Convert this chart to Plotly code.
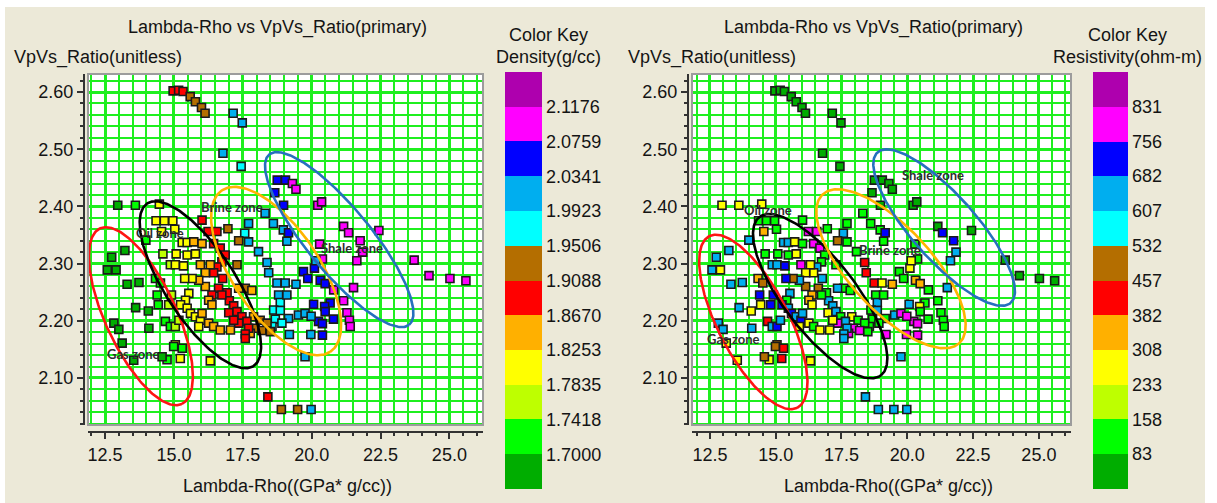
import numpy as np
import plotly.graph_objects as go

FIG_W, FIG_H = 1217, 503

# ---------------- data ----------------
lambda_rho = [
    14.97, 15.17, 15.33, 15.59, 15.78, 16.00, 16.13, 17.15, 17.48, 16.78,
    17.44, 18.75, 19.05, 19.30, 19.43, 18.66, 18.98, 20.22, 20.36, 12.96,
    13.60, 14.47, 14.35, 14.65, 14.96, 15.03, 14.55, 16.02, 16.24, 16.56,
    16.96, 17.71, 17.57, 17.71, 18.31, 18.61, 18.97, 19.16, 19.10, 13.98,
    21.16, 21.34, 22.44, 21.76, 20.29, 20.39, 21.64, 23.72, 24.26, 25.02,
    25.60, 21.52, 21.16, 21.28, 21.37, 21.40, 20.80, 21.85, 19.70, 19.86,
    20.10, 20.31, 20.49, 20.67, 20.47, 20.49, 20.25, 20.39, 20.39, 20.79,
    20.07, 20.15, 18.74, 19.04, 19.43, 18.80, 18.86, 19.10, 18.62, 18.86,
    19.16, 19.52, 19.76, 19.98, 18.68, 18.92, 18.56, 19.19, 19.97, 19.76,
    18.07, 18.38, 18.44, 18.41, 18.90, 19.49, 19.98, 17.89, 18.13, 18.38,
    17.95, 18.19, 18.50, 17.77, 17.59, 17.83, 16.44, 16.68, 16.86, 16.74,
    16.56, 16.44, 16.77, 16.62, 16.93, 17.01, 17.17, 16.99, 17.29, 17.47,
    17.65, 17.71, 17.59, 17.59, 17.35, 17.17, 16.74, 16.38, 16.14, 15.30,
    15.48, 15.72, 16.02, 14.60, 15.08, 15.48, 15.78, 14.87, 15.05, 15.35,
    15.96, 16.32, 16.14, 17.29, 17.35, 15.90, 15.66, 15.39, 14.33, 14.51,
    15.54, 15.42, 15.24, 15.48, 15.60, 15.78, 15.96, 15.90, 15.05, 15.23,
    16.32, 14.91, 14.81, 16.26, 16.38, 16.02, 16.26, 16.44, 16.68, 17.05,
    17.35, 13.22, 12.74, 12.58, 12.90, 13.30, 13.73, 13.61, 14.07, 12.82,
    13.00, 13.12, 14.09, 13.54, 14.69, 14.87, 14.99, 14.75, 14.57, 14.39,
    14.43, 15.30, 15.05, 15.18,
]
vpvs_ratio = [
    2.602, 2.603, 2.601, 2.592, 2.583, 2.573, 2.563, 2.563, 2.546, 2.493,
    2.470, 2.446, 2.446, 2.440, 2.430, 2.424, 2.402, 2.402, 2.408, 2.402,
    2.402, 2.404, 2.375, 2.375, 2.375, 2.360, 2.356, 2.376, 2.356, 2.356,
    2.361, 2.370, 2.353, 2.338, 2.388, 2.370, 2.359, 2.354, 2.339, 2.341,
    2.365, 2.354, 2.358, 2.340, 2.334, 2.308, 2.305, 2.306, 2.279, 2.274,
    2.270, 2.258, 2.235, 2.214, 2.201, 2.190, 2.254, 2.320, 2.286, 2.274,
    2.292, 2.271, 2.265, 2.231, 2.225, 2.216, 2.199, 2.195, 2.175, 2.203,
    2.229, 2.305, 2.266, 2.266, 2.264, 2.245, 2.232, 2.245, 2.219, 2.218,
    2.204, 2.210, 2.213, 2.208, 2.203, 2.196, 2.190, 2.176, 2.176, 2.137,
    2.321, 2.302, 2.284, 2.067, 2.045, 2.045, 2.045, 2.207, 2.201, 2.196,
    2.187, 2.183, 2.181, 2.178, 2.257, 2.253, 2.335, 2.327, 2.315, 2.303,
    2.294, 2.284, 2.274, 2.257, 2.249, 2.235, 2.226, 2.214, 2.216, 2.207,
    2.199, 2.187, 2.177, 2.169, 2.196, 2.201, 2.245, 2.245, 2.260, 2.337,
    2.337, 2.338, 2.335, 2.317, 2.317, 2.315, 2.317, 2.298, 2.298, 2.296,
    2.298, 2.298, 2.284, 2.298, 2.340, 2.271, 2.274, 2.274, 2.274, 2.266,
    2.248, 2.236, 2.228, 2.222, 2.213, 2.207, 2.201, 2.190, 2.158, 2.134,
    2.130, 2.245, 2.228, 2.236, 2.228, 2.213, 2.196, 2.190, 2.184, 2.184,
    2.257, 2.323, 2.311, 2.289, 2.289, 2.264, 2.267, 2.223, 2.217, 2.196,
    2.185, 2.161, 2.187, 2.131, 2.199, 2.190, 2.155, 2.132, 2.137, 2.245,
    2.228, 2.152, 2.190, 2.201,
]
density = [
    1.89, 1.89, 1.89, 1.93, 1.93, 1.93, 1.93, 2.01, 2.01, 2.01,
    1.97, 2.055, 2.055, 2.10, 2.10, 2.055, 2.055, 2.10, 2.10, 1.68,
    1.72, 1.80, 1.80, 1.80, 1.80, 1.80, 1.80, 1.89, 1.89, 1.89,
    1.93, 2.01, 1.97, 2.01, 2.01, 2.01, 2.01, 2.055, 2.01, 1.72,
    2.10, 2.10, 2.10, 2.10, 2.10, 2.10, 2.10, 2.10, 2.10, 2.10,
    2.10, 2.10, 2.10, 2.10, 2.10, 2.10, 2.10, 2.10, 2.055, 2.055,
    2.055, 2.055, 2.055, 2.055, 2.055, 2.055, 2.055, 2.055, 2.055, 2.055,
    2.055, 2.01, 2.01, 2.01, 2.01, 2.01, 1.97, 2.01, 1.97, 1.97,
    2.01, 2.01, 2.01, 2.01, 1.97, 1.97, 1.97, 2.01, 2.01, 2.01,
    2.01, 2.01, 2.01, 1.89, 1.93, 1.93, 2.01, 1.85, 1.93, 1.93,
    1.93, 1.93, 1.93, 1.85, 1.93, 1.85, 1.89, 1.89, 1.89, 1.89,
    1.89, 1.89, 1.89, 1.89, 1.89, 1.89, 1.89, 1.89, 1.89, 1.89,
    1.89, 1.89, 1.89, 1.89, 1.89, 1.89, 1.89, 1.89, 1.85, 1.80,
    1.80, 1.85, 1.85, 1.76, 1.80, 1.80, 1.80, 1.76, 1.80, 1.80,
    1.85, 1.85, 1.85, 1.93, 1.93, 1.85, 1.80, 1.80, 1.72, 1.72,
    1.80, 1.80, 1.80, 1.80, 1.80, 1.80, 1.80, 1.80, 1.80, 1.80,
    1.80, 1.76, 1.76, 1.85, 1.85, 1.85, 1.85, 1.85, 1.85, 1.85,
    1.85, 1.68, 1.68, 1.68, 1.68, 1.68, 1.68, 1.68, 1.68, 1.68,
    1.68, 1.68, 1.68, 1.68, 1.72, 1.72, 1.72, 1.72, 1.68, 1.72,
    1.72, 1.72, 1.76, 1.76,
]
resistivity = [
    45, 45, 45, 45, 45, 45, 45, 45, 45, 45,
    45, 45, 45, 45, 45, 45, 45, 45, 45, 270,
    270, 270, 120, 120, 120, 120, 345, 120, 795, 795,
    120, 120, 645, 120, 120, 120, 120, 720, 120, 645,
    45, 720, 45, 720, 120, 120, 645, 45, 45, 45,
    45, 645, 120, 120, 120, 120, 120, 645, 120, 120,
    270, 345, 345, 120, 270, 120, 795, 795, 795, 120,
    645, 270, 420, 270, 345, 120, 645, 120, 120, 645,
    120, 645, 795, 795, 120, 120, 120, 795, 795, 645,
    120, 420, 420, 645, 645, 645, 645, 270, 120, 120,
    795, 795, 120, 795, 120, 120, 795, 795, 120, 120,
    645, 270, 645, 495, 120, 645, 645, 270, 645, 120,
    645, 645, 645, 645, 795, 270, 120, 345, 495, 645,
    645, 270, 120, 120, 120, 120, 270, 645, 645, 720,
    795, 270, 270, 120, 495, 645, 495, 720, 345, 495,
    645, 120, 720, 645, 720, 645, 720, 270, 495, 420,
    270, 720, 720, 345, 270, 645, 270, 120, 270, 270,
    645, 645, 645, 645, 270, 645, 645, 645, 270, 645,
    645, 270, 645, 270, 420, 645, 495, 270, 495, 720,
    270, 420, 720, 645,
]

x_tick_vals = [12.5, 15.0, 17.5, 20.0, 22.5, 25.0]
y_tick_vals = [2.10, 2.20, 2.30, 2.40, 2.50, 2.60]

density_bounds = [1.6582, 1.7000, 1.7418, 1.7835, 1.8253, 1.8670, 1.9088,
                  1.9506, 1.9923, 2.0341, 2.0759, 2.1176, 2.1594]
resistivity_bounds = [8, 83, 158, 233, 308, 382, 457, 532, 607, 682, 756, 831, 906]
key_colors = ["#00AD00", "#00FF00", "#BEFF00", "#FFFF00", "#FFB000", "#FF0000",
              "#B46E00", "#00FFFF", "#00AEEF", "#0000FF", "#FF00FF", "#AE00AE"]

zone_names = ["Gas zone", "Oil zone", "Brine zone", "Shale zone"]
zone_line_colors = ["#FF1414", "#000000", "#FFB400", "#2670BE"]
left_zone_cx = [13.80, 15.96, 18.71, 21.00]
left_zone_cy = [2.208, 2.263, 2.287, 2.342]
left_zone_a = [96.8, 97.1, 97.2, 110.2]
left_zone_b = [35.4, 35.0, 43.3, 32.0]
left_zone_tilt = [25.0, 33.2, 33.9, 39.4]
right_zone_cx = [14.15, 16.69, 19.38, 21.40]
right_zone_cy = [2.198, 2.243, 2.291, 2.363]
right_zone_a = [96.4, 99.8, 101.0, 100.5]
right_zone_b = [35.4, 36.1, 41.2, 32.2]
right_zone_tilt = [27.2, 37.5, 42.5, 41.5]
left_label_x = [13.54, 14.51, 17.11, 21.46]
left_label_y = [2.142, 2.353, 2.399, 2.327]
right_label_x = [13.39, 14.72, 19.34, 20.99]
right_label_y = [2.169, 2.394, 2.324, 2.455]

# ---------------- layout geometry (pixels) ----------------
L_X0, L_X1 = 88, 483
R_X0, R_X1 = 692, 1071
P_Y0, P_Y1 = 74, 425
L_XRANGE = [11.88, 26.22]
R_XRANGE = [11.82, 26.22]
YRANGE = [2.0178, 2.6315]

GRID = "#1FEF1F"
FONT = "Liberation Sans, Arial, sans-serif"
TXT = "#141414"


def px(xp):
    return xp / FIG_W


def py(yp):
    return 1 - yp / FIG_H


def discrete_scale(bounds, colors):
    lo, hi = bounds[0], bounds[-1]
    cs = []
    for i, c in enumerate(colors):
        cs.append([(bounds[i] - lo) / (hi - lo), c])
        cs.append([(bounds[i + 1] - lo) / (hi - lo), c])
    return cs


def ellipse(cx, cy, a, b, tilt, sx, sy):
    t = np.linspace(0, 2 * np.pi, 240)
    th = np.radians(tilt)
    ux, uy = np.sin(th), np.cos(th)      # major axis direction (pixel, y down)
    vx, vy = np.cos(th), -np.sin(th)     # minor axis direction
    dx = a * np.cos(t) * ux + b * np.sin(t) * vx
    dy = a * np.cos(t) * uy + b * np.sin(t) * vy
    return cx + dx / sx, cy - dy / sy


fig = go.Figure()

marker_line = dict(color="#1A1A1A", width=1.6)
fig.add_trace(go.Scatter(
    x=lambda_rho, y=vpvs_ratio, mode="markers", xaxis="x", yaxis="y",
    marker=dict(symbol="square", size=8, color=density, coloraxis="coloraxis",
                line=marker_line),
    showlegend=False, hoverinfo="skip"))
fig.add_trace(go.Scatter(
    x=lambda_rho, y=vpvs_ratio, mode="markers", xaxis="x2", yaxis="y2",
    marker=dict(symbol="square", size=8, color=resistivity, coloraxis="coloraxis2",
                line=marker_line),
    showlegend=False, hoverinfo="skip"))

sy = (P_Y1 - P_Y0) / (YRANGE[1] - YRANGE[0])
sx_l = (L_X1 - L_X0) / (L_XRANGE[1] - L_XRANGE[0])
sx_r = (R_X1 - R_X0) / (R_XRANGE[1] - R_XRANGE[0])
for i in range(4):
    ex, ey = ellipse(left_zone_cx[i], left_zone_cy[i], left_zone_a[i], left_zone_b[i],
                     left_zone_tilt[i], sx_l, sy)
    fig.add_trace(go.Scatter(x=ex, y=ey, mode="lines", xaxis="x", yaxis="y",
                             line=dict(color=zone_line_colors[i], width=2.6),
                             showlegend=False, hoverinfo="skip"))
    ex, ey = ellipse(right_zone_cx[i], right_zone_cy[i], right_zone_a[i], right_zone_b[i],
                     right_zone_tilt[i], sx_r, sy)
    fig.add_trace(go.Scatter(x=ex, y=ey, mode="lines", xaxis="x2", yaxis="y2",
                             line=dict(color=zone_line_colors[i], width=2.6),
                             showlegend=False, hoverinfo="skip"))

tickfont = dict(family=FONT, size=18, color=TXT)


def xaxis(x0, x1, rng):
    return dict(domain=[px(x0), px(x1)], range=rng, anchor="free", position=py(432),
                tick0=12.5, dtick=2.5, tickformat=".1f", ticks="outside", ticklen=6,
                tickwidth=2, tickcolor="#333333", showline=True, linecolor="#333333",
                linewidth=2, showgrid=True, gridcolor=GRID, gridwidth=3, zeroline=False,
                tickfont=tickfont,
                minor=dict(tick0=12.5, dtick=0.5, ticks="outside", ticklen=3, tickwidth=1.5,
                           tickcolor="#333333", showgrid=True, gridcolor=GRID, gridwidth=2))


def yaxis(pos_px):
    return dict(domain=[py(P_Y1), py(P_Y0)], range=YRANGE, anchor="free", position=px(pos_px),
                tick0=2.1, dtick=0.1, tickformat=".2f", ticks="outside", ticklen=6,
                tickwidth=2, tickcolor="#333333", showline=True, linecolor="#333333",
                linewidth=2, showgrid=True, gridcolor=GRID, gridwidth=3, zeroline=False,
                tickfont=tickfont,
                minor=dict(tick0=2.1, dtick=0.02, ticks="outside", ticklen=3, tickwidth=1.5,
                           tickcolor="#333333", showgrid=True, gridcolor=GRID, gridwidth=2))


def colorbar(x0, thick, bounds, texts):
    return dict(x=px(x0), xanchor="left", y=py(72), yanchor="top", len=417, lenmode="pixels",
                thickness=thick, thicknessmode="pixels", xpad=0, ypad=0, outlinewidth=0,
                tickmode="array", tickvals=bounds[1:-1], ticktext=texts, ticks="", ticklen=0,
                tickfont=dict(family=FONT, size=18, color=TXT))


annotations = []


def text(x, y, s, anchor="center", size=18):
    annotations.append(dict(x=px(x), y=py(y), xref="paper", yref="paper", text=s,
                            showarrow=False, xanchor=anchor, yanchor="middle",
                            font=dict(family=FONT, size=size, color=TXT)))


text(277, 27, "Lambda-Rho vs VpVs_Ratio(primary)")
text(873, 27, "Lambda-Rho vs VpVs_Ratio(primary)")
text(12, 57, "VpVs_Ratio(unitless)", anchor="left")
text(626, 57, "VpVs_Ratio(unitless)", anchor="left")
text(287, 486, "Lambda-Rho((GPa* g/cc))")
text(888, 486, "Lambda-Rho((GPa* g/cc))")
text(548, 35, "Color Key")
text(548, 57, "Density(g/cc)")
text(1127, 35, "Color Key")
text(1127, 57, "Resistivity(ohm-m)")

for i in range(4):
    for xr, yr, lx, ly in (("x", "y", left_label_x, left_label_y),
                           ("x2", "y2", right_label_x, right_label_y)):
        annotations.append(dict(x=lx[i], y=ly[i], xref=xr, yref=yr, text="<b>%s</b>" % zone_names[i],
                                showarrow=False, xanchor="center", yanchor="middle",
                                font=dict(family="Lato, Liberation Sans, sans-serif", size=13,
                                          color="#2E2E2E")))

shapes = [
    dict(type="rect", xref="paper", yref="paper", x0=0, x1=1, y0=py(7), y1=1,
         fillcolor="white", line=dict(width=0), layer="below"),
    dict(type="rect", xref="paper", yref="paper", x0=0, x1=px(5), y0=0, y1=1,
         fillcolor="white", line=dict(width=0), layer="below"),
    dict(type="rect", xref="paper", yref="paper", x0=px(1205), x1=1, y0=0, y1=1,
         fillcolor="white", line=dict(width=0), layer="below"),
    dict(type="rect", xref="paper", yref="paper", x0=px(L_X0), x1=px(L_X1),
         y0=py(P_Y1), y1=py(P_Y0), line=dict(color="#9C9C9C", width=2), layer="above"),
    dict(type="rect", xref="paper", yref="paper", x0=px(R_X0), x1=px(R_X1),
         y0=py(P_Y1), y1=py(P_Y0), line=dict(color="#9C9C9C", width=2), layer="above"),
]

fig.update_layout(
    width=FIG_W, height=FIG_H, margin=dict(l=0, r=0, t=0, b=0),
    paper_bgcolor="#ECE9D8", plot_bgcolor="white", showlegend=False,
    xaxis=xaxis(L_X0, L_X1, L_XRANGE), yaxis=yaxis(84),
    xaxis2=xaxis(R_X0, R_X1, R_XRANGE), yaxis2=yaxis(688),
    coloraxis=dict(cmin=density_bounds[0], cmax=density_bounds[-1],
                   colorscale=discrete_scale(density_bounds, key_colors),
                   colorbar=colorbar(505, 37, density_bounds,
                                     ["%.4f" % v for v in density_bounds[1:-1]])),
    coloraxis2=dict(cmin=resistivity_bounds[0], cmax=resistivity_bounds[-1],
                    colorscale=discrete_scale(resistivity_bounds, key_colors),
                    colorbar=colorbar(1093, 35, resistivity_bounds,
                                      [str(v) for v in resistivity_bounds[1:-1]])),
    annotations=annotations, shapes=shapes,
)

fig.write_html("out.html")
